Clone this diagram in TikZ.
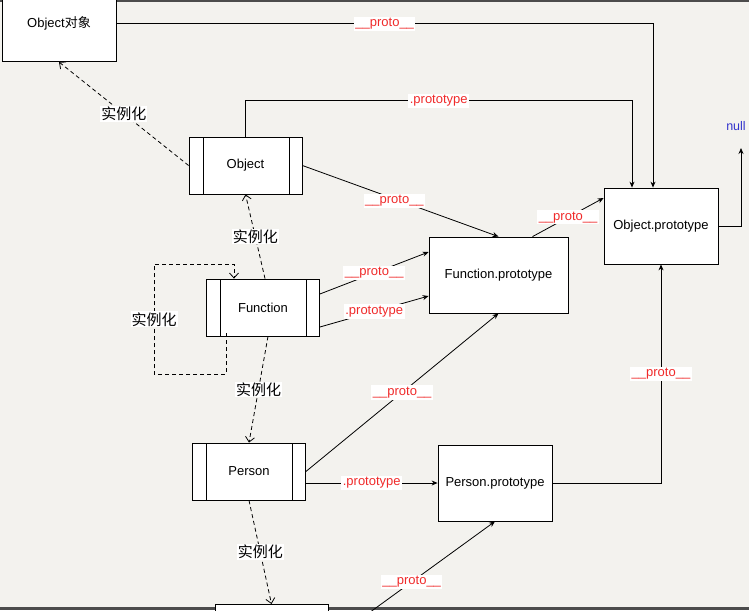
\documentclass[tikz,border=0pt]{standalone}
\usepackage{fontspec}
\setmainfont{Liberation Sans}
\newfontfamily\cjk{Noto Sans CJK SC}
\usepackage{xcolor}
\usepackage{tikz}
\usetikzlibrary{arrows.meta}
\definecolor{paper}{HTML}{F3F2EE}
\definecolor{protored}{HTML}{F02A2A}
\definecolor{nullblue}{HTML}{3333CC}

\begin{document}
\begin{tikzpicture}[x=1pt, y=-1pt,
    every node/.style={font=\fontsize{13}{15}\selectfont},
    protobox/.style={draw, thick, fill=white, minimum width=114, minimum height=76, inner sep=0pt},
    ctorbox/.style={draw, thick, fill=white, minimum width=113, minimum height=57, inner sep=0pt,
        path picture={
            \draw[thick] ([xshift=14pt]path picture bounding box.north west) -- ([xshift=14pt]path picture bounding box.south west);
            \draw[thick] ([xshift=-13pt]path picture bounding box.north east) -- ([xshift=-13pt]path picture bounding box.south east);}},
    lbl/.style={text=protored, fill=white, inner sep=1.5pt, font=\fontsize{13}{15}\selectfont},
    instlbl/.style={fill=white, inner sep=1pt, font=\cjk\fontsize{15}{17}\selectfont},
    link/.style={thick, -{Stealth[length=6pt,width=5pt]}},
    inst/.style={thick, dash pattern=on 4pt off 3pt, -{Straight Barb[length=5pt,width=9pt]}}]
    % Paper
    \useasboundingbox (0,0) rectangle (749,610);
    \fill[paper] (0,0) rectangle (749,610);
    \clip (0,0) rectangle (749,610);
    \fill[black!70] (0,0) rectangle (749,2);
    \fill[black!70] (0,607) rectangle (749,610);

    % Boxes
    \node[protobox] (objobj) [anchor=south] at (59,62) {Object{\cjk 对象}};
    \node[ctorbox] (obj) at (245.5,165.5) {Object};
    \node[protobox] (objproto) at (661,226) {Object.prototype};
    \node[protobox, minimum width=139] (funproto) at (498.5,275) {Function.prototype};
    \node[ctorbox] (fun) at (263,307.5) {Function};
    \node[ctorbox] (per) at (249,471.5) {Person};
    \node[protobox] (perproto) at (495,483) {Person.prototype};
    \node[protobox, minimum width=113] (inst1) [anchor=north] at (271.5,604) {};
    \node[text=nullblue, font=\fontsize{12.5}{14}\selectfont] (null) at (736,126) {null};
    \coordinate (nullend) at (741,148);

    % Arrows
    \draw[link] (objobj.east) -| ([xshift=-8pt]objproto.north) node[lbl, pos=0.25] {\_\_proto\_\_};
    \draw[link] (obj.north) -- ++(0,-36) -| ([xshift=-29pt]objproto.north) node[lbl, pos=0.25] {.prototype};
    \draw[link] (objproto.east) -| (nullend);
    \draw[link] (obj.east) -- (funproto.north) node[lbl, midway, xshift=-6pt] {\_\_proto\_\_};
    \draw[link] ([xshift=34pt]funproto.north) -- ([yshift=28pt]objproto.west) node[lbl, midway] {\_\_proto\_\_};
    \draw[link] ([yshift=13.5pt]fun.east) -- ([yshift=23pt]funproto.west) node[lbl, midway] {\_\_proto\_\_};
    \draw[link] ([yshift=-19.5pt]fun.east) -- ([yshift=-21pt]funproto.west) node[lbl, midway] {.prototype};
    \draw[link] (per.east) -- (funproto.south) node[lbl, midway] {\_\_proto\_\_};
    \draw[link] (per.east |- perproto.west) -- (perproto.west) node[lbl, midway] {.prototype};
    \draw[link] (perproto.east) -| (objproto.south) node[lbl, pos=0.75] {\_\_proto\_\_};
    \draw[link] (inst1.east) -- (perproto.south) node[lbl, midway] {\_\_proto\_\_};

    % Instantiation
    \draw[inst] (obj.west) -- (objobj.south) node[instlbl, midway] {实例化};
    \draw[inst] ([xshift=2pt]fun.north) -- (obj.south) node[instlbl, midway] {实例化};
    \draw[inst] ([xshift=-37pt,yshift=3pt]fun.south) -- ++(0,41) -- ++(-72,0)
        -- ++(0,-110) node[instlbl, midway] {实例化} -- ++(80,0) -- ([xshift=-29pt]fun.north);
    \draw[inst] ([xshift=5pt]fun.south) -- (per.north) node[instlbl, midway] {实例化};
    \draw[inst] (per.south) -- (inst1.north) node[instlbl, midway] {实例化};
\end{tikzpicture}
\end{document}
